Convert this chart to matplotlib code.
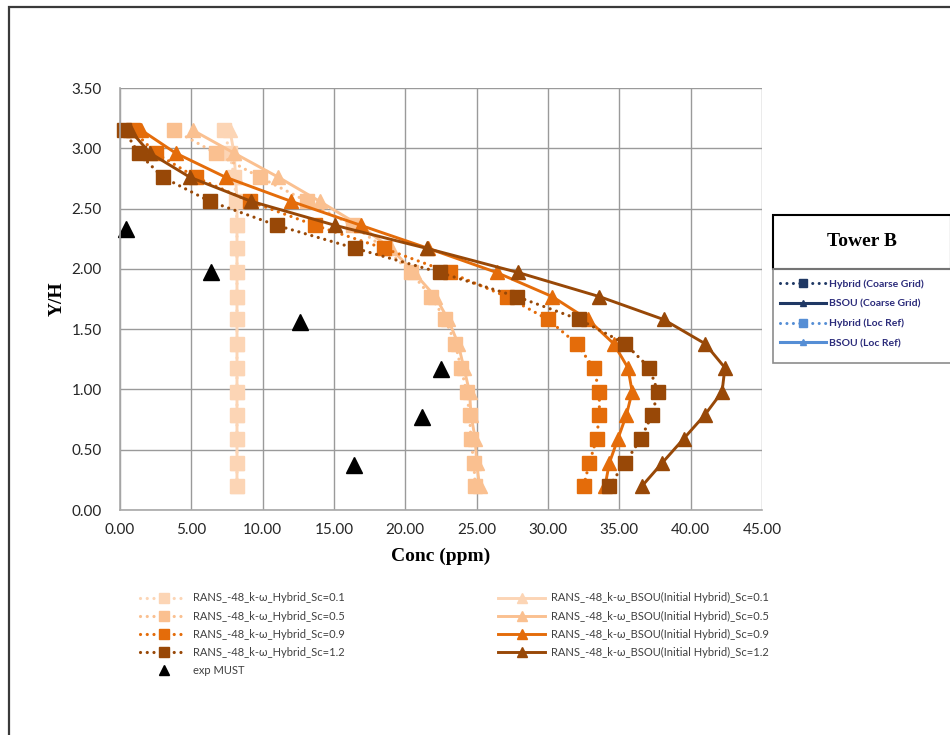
import matplotlib
matplotlib.use("Agg")
import matplotlib.pyplot as plt
from matplotlib.lines import Line2D
from matplotlib.patches import Rectangle
import numpy as np

plt.rcParams['font.family'] = ['Lato', 'DejaVu Sans']

# ---------------- data ----------------
yh = [0.20, 0.39, 0.59, 0.79, 0.98, 1.18, 1.38, 1.58, 1.77, 1.97, 2.17, 2.36, 2.56, 2.76, 2.96, 3.15]

hyb_01 = [8.2, 8.2, 8.2, 8.2, 8.2, 8.2, 8.2, 8.2, 8.2, 8.2, 8.2, 8.2, 8.15, 8.0, 7.7, 7.3]
bsou_01 = [8.2, 8.2, 8.2, 8.2, 8.2, 8.2, 8.2, 8.2, 8.2, 8.2, 8.2, 8.2, 8.2, 8.1, 8.0, 7.7]
hyb_05 = [24.9, 24.8, 24.6, 24.5, 24.3, 23.9, 23.5, 22.8, 21.8, 20.4, 18.6, 16.3, 13.1, 9.8, 6.7, 3.8]
bsou_05 = [25.2, 25.0, 24.9, 24.6, 24.5, 24.1, 23.7, 23.0, 22.1, 20.6, 19.0, 16.8, 14.0, 11.1, 8.0, 5.1]
hyb_09 = [32.5, 32.9, 33.4, 33.6, 33.6, 33.2, 32.0, 30.0, 27.1, 23.1, 18.5, 13.7, 9.1, 5.3, 2.5, 0.9]
bsou_09 = [34.0, 34.3, 34.9, 35.5, 35.9, 35.6, 34.6, 32.8, 30.3, 26.4, 21.6, 16.9, 12.0, 7.4, 3.9, 1.5]
hyb_12 = [34.3, 35.4, 36.5, 37.3, 37.7, 37.1, 35.4, 32.2, 27.8, 22.4, 16.5, 11.0, 6.3, 3.0, 1.3, 0.3]
bsou_12 = [36.6, 38.0, 39.5, 41.0, 42.2, 42.4, 41.0, 38.1, 33.6, 27.9, 21.5, 15.1, 9.2, 4.9, 2.1, 0.7]

exp_x = [0.45, 6.4, 12.65, 22.5, 21.2, 16.4]
exp_y = [2.33, 1.97, 1.56, 1.17, 0.77, 0.37]

sc_labels = ["0.1", "0.5", "0.9", "1.2"]
colors = ["#FCD5B5", "#FAC090", "#E46C0A", "#984807"]
hyb_series = [hyb_01, hyb_05, hyb_09, hyb_12]
bsou_series = [bsou_01, bsou_05, bsou_09, bsou_12]

xticks = [0, 5, 10, 15, 20, 25, 30, 35, 40, 45]
yticks = [0.0, 0.5, 1.0, 1.5, 2.0, 2.5, 3.0, 3.5]

# ---------------- figure ----------------
W, H = 950, 735
fig = plt.figure(figsize=(W / 100, H / 100), dpi=100)
fig.patch.set_facecolor("white")

def fx(px):
    return px / W

def fy(py):
    return 1 - py / H

DOT = (0, (0.01, 2.1))

# outer chart frame (cropped on the right and bottom)
fig.add_artist(Rectangle((fx(9), fy(800)), 1.2, fy(7) - fy(800), transform=fig.transFigure,
                         fill=False, edgecolor="#3a3a3a", linewidth=1.6))

ax = fig.add_axes([fx(120), fy(510), fx(762) - fx(120), fy(88) - fy(510)])
ax.set_xlim(0, 45)
ax.set_ylim(0, 3.5)
ax.set_xticks(xticks)
ax.set_yticks(yticks)
ax.set_xticklabels([f"{v:.2f}" for v in xticks])
ax.set_yticklabels([f"{v:.2f}" for v in yticks])
ax.tick_params(length=0, labelsize=11, colors="#262626")
ax.tick_params(axis="x", pad=9)
ax.tick_params(axis="y", pad=13)
ax.grid(True, color="#9a9a9a", linewidth=1.0)
ax.set_axisbelow(True)
for s in ["top", "right"]:
    ax.spines[s].set_visible(False)
for s in ["left", "bottom"]:
    ax.spines[s].set_color("#a8a8a8")
    ax.spines[s].set_linewidth(1.2)

hyb_handles, bsou_handles = [], []
for sc, c, hv, bv in zip(sc_labels, colors, hyb_series, bsou_series):
    h, = ax.plot(hv, yh, linestyle=DOT, linewidth=2.3, color=c, marker="s", markersize=10,
                 markeredgecolor=c, dash_capstyle="round", clip_on=False,
                 label=f"RANS_-48_k-ω_Hybrid_Sc={sc}")
    b, = ax.plot(bv, yh, linestyle="-", linewidth=2.1, color=c, marker="^", markersize=10,
                 markeredgecolor=c, clip_on=False,
                 label=f"RANS_-48_k-ω_BSOU(Initial Hybrid)_Sc={sc}")
    hyb_handles.append(h)
    bsou_handles.append(b)

e, = ax.plot(exp_x, exp_y, linestyle="none", marker="^", markersize=12, color="black",
             clip_on=False, label="exp MUST")
e_proxy = Line2D([], [], linestyle="none", marker="^", markersize=10.5, color="black")

ax.set_xlabel("Conc (ppm)", fontsize=14, fontweight="bold", family="Liberation Serif", labelpad=8)
ax.set_ylabel("Y/H", fontsize=14, fontweight="bold", family="Liberation Serif", labelpad=4)

# bottom legends
leg_kw = dict(frameon=False, fontsize=8, handlelength=4.2, labelspacing=0.64,
              numpoints=1, borderaxespad=0, handletextpad=0.5, labelcolor="#404040")
l1 = fig.legend(hyb_handles + [e_proxy], [h.get_label() for h in hyb_handles] + ["exp MUST"],
                loc="upper left", bbox_to_anchor=(fx(136), fy(588)), markerscale=0.65, **leg_kw)
l2 = fig.legend(bsou_handles, [b.get_label() for b in bsou_handles],
                loc="upper left", bbox_to_anchor=(fx(494), fy(588)), markerscale=0.65, **leg_kw)

# Tower B box and its legend
fig.add_artist(Rectangle((fx(773), fy(269)), fx(951) - fx(773), fy(215) - fy(269),
                         transform=fig.transFigure, fill=False, edgecolor="black", linewidth=1.5))
fig.text(fx(862), fy(242), "Tower B", ha="center", va="center", fontsize=14,
         fontweight="bold", family="Liberation Serif")
fig.add_artist(Rectangle((fx(773), fy(363)), fx(951) - fx(773), fy(269) - fy(363),
                         transform=fig.transFigure, fill=False, edgecolor="#8c8c8c", linewidth=1.2))
navy = "#1F3864"
lblue = "#558ED5"
tb_handles = [
    Line2D([], [], color=navy, linestyle=DOT, dash_capstyle="round", linewidth=2.2, marker="s", markersize=5.5),
    Line2D([], [], color=navy, linestyle="-", linewidth=2.2, marker="^", markersize=4),
    Line2D([], [], color=lblue, linestyle=DOT, dash_capstyle="round", linewidth=2.2, marker="s", markersize=5.5),
    Line2D([], [], color=lblue, linestyle="-", linewidth=2.2, marker="^", markersize=4),
]
tb_labels = ["Hybrid (Coarse Grid)", "BSOU (Coarse Grid)", "Hybrid (Loc Ref)", "BSOU (Loc Ref)"]
fig.legend(tb_handles, tb_labels, loc="upper left", bbox_to_anchor=(fx(776), fy(275)),
           frameon=False, prop={"size": 7.5, "weight": "bold"}, handlelength=4.4,
           labelspacing=1.0, numpoints=1, borderaxespad=0, handletextpad=0.3,
           labelcolor="#2b2b7a")

fig.savefig("out.png", dpi=100)
